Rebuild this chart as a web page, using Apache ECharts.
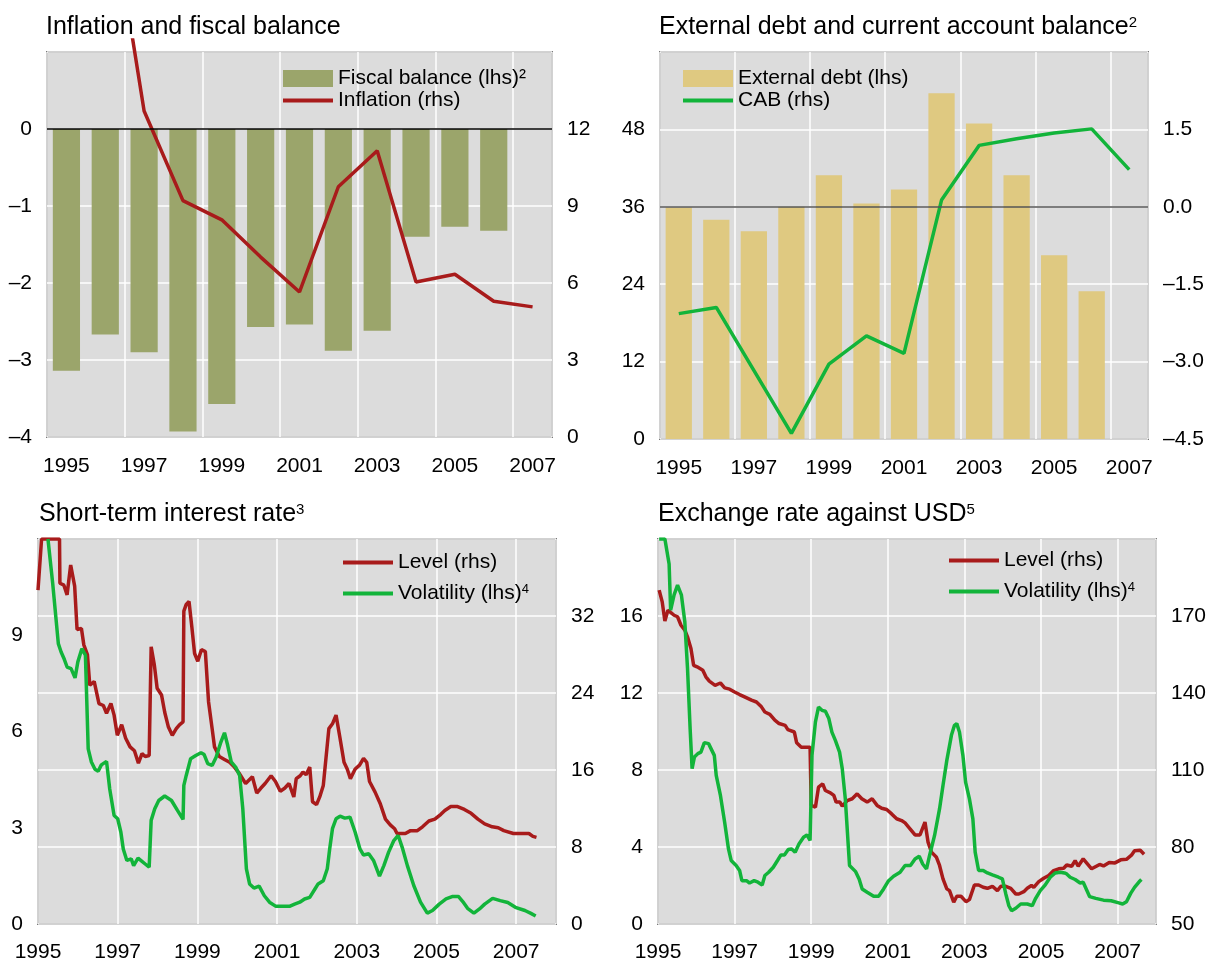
<!DOCTYPE html>
<html lang="en">
<head>
<meta charset="UTF-8">
<title>Macro indicators</title>
<script src="https://cdn.jsdelivr.net/npm/echarts@6/dist/echarts.min.js"></script>
</head>
<body style="margin:0;background:#fff">
<div id="main" style="width:1209px;height:963px;"></div>
<script type="text/javascript">
// ---- data: top panels (annual) ----
var years = ['1995','1996','1997','1998','1999','2000','2001','2002','2003','2004','2005','2006','2007'];
var fiscalBalance = [-3.14, -2.67, -2.90, -3.93, -3.57, -2.57, -2.54, -2.88, -2.62, -1.40, -1.27, -1.32, null];
var inflation = [30, 22.2, 12.7, 9.21, 8.46, 7.01, 5.65, 9.75, 11.15, 6.04, 6.34, 5.29, 5.07];
var externalDebt = [35.9, 34.0, 32.2, 36.0, 40.9, 36.5, 38.7, 53.6, 48.9, 40.9, 28.5, 22.9, null];
var cab = [-2.07, -1.95, -3.17, -4.39, -3.05, -2.50, -2.84, 0.13, 1.19, 1.32, 1.43, 1.51, 0.72];

// ---- data: bottom panels (monthly, [year, value]) ----
var rateLevel = [[1995.0,34.7],[1995.09,40],[1995.54,40],[1995.55,35.4],[1995.65,35.2],[1995.73,34.2],[1995.82,37.3],[1995.92,35.1],[1995.98,30.6],[1996.09,30.7],[1996.15,29.0],[1996.24,28.0],[1996.30,24.8],[1996.41,25.2],[1996.53,22.9],[1996.64,22.7],[1996.72,21.9],[1996.83,22.9],[1996.91,21.7],[1996.99,19.6],[1997.10,20.7],[1997.20,19.3],[1997.31,18.4],[1997.42,18.0],[1997.52,16.7],[1997.61,17.7],[1997.69,17.4],[1997.79,17.5],[1997.84,28.8],[1997.92,26.9],[1997.99,24.5],[1998.10,23.8],[1998.18,22.0],[1998.27,20.5],[1998.37,19.6],[1998.47,20.3],[1998.55,20.7],[1998.64,21.0],[1998.66,32.5],[1998.72,33.2],[1998.79,33.5],[1998.86,30.9],[1998.93,28.1],[1999.01,27.3],[1999.10,28.5],[1999.20,28.3],[1999.28,23.1],[1999.37,20.3],[1999.43,18.4],[1999.55,17.4],[1999.68,17.1],[1999.81,16.8],[1999.93,16.3],[2000.06,15.6],[2000.21,14.6],[2000.38,15.3],[2000.49,13.6],[2000.59,14.1],[2000.70,14.6],[2000.85,15.4],[2000.96,14.8],[2001.08,13.8],[2001.19,14.1],[2001.30,14.6],[2001.42,13.2],[2001.48,15.1],[2001.58,15.4],[2001.65,15.8],[2001.73,15.5],[2001.82,16.3],[2001.89,12.7],[2001.99,12.4],[2002.07,13.2],[2002.16,14.4],[2002.30,20.3],[2002.39,20.8],[2002.48,21.7],[2002.58,19.3],[2002.68,16.8],[2002.76,16.1],[2002.84,15.1],[2002.96,16.1],[2003.07,16.5],[2003.17,17.2],[2003.25,16.8],[2003.32,14.8],[2003.46,13.7],[2003.59,12.5],[2003.72,10.9],[2003.84,10.3],[2003.95,9.9],[2004.01,9.4],[2004.22,9.4],[2004.35,9.7],[2004.52,9.7],[2004.65,10.1],[2004.81,10.7],[2004.96,10.9],[2005.11,11.4],[2005.21,11.8],[2005.36,12.2],[2005.53,12.2],[2005.70,11.9],[2005.87,11.5],[2006.04,10.9],[2006.21,10.4],[2006.40,10.1],[2006.55,10.0],[2006.69,9.7],[2006.93,9.4],[2007.32,9.4],[2007.42,9.1],[2007.51,9.0]];

var rateVol = [[1995.25,12],[1995.37,10.6],[1995.51,8.74],[1995.58,8.48],[1995.66,8.25],[1995.73,8.01],[1995.83,7.96],[1995.93,7.67],[1996.00,8.17],[1996.10,8.58],[1996.19,8.38],[1996.26,5.46],[1996.34,5.05],[1996.43,4.82],[1996.51,4.76],[1996.59,4.96],[1996.72,5.07],[1996.80,4.21],[1996.91,3.38],[1997.00,3.28],[1997.08,2.86],[1997.14,2.34],[1997.23,1.98],[1997.34,2.03],[1997.40,1.82],[1997.51,2.05],[1997.61,1.95],[1997.69,1.87],[1997.79,1.77],[1997.84,3.23],[1997.93,3.59],[1998.03,3.85],[1998.18,3.99],[1998.35,3.85],[1998.50,3.54],[1998.64,3.26],[1998.66,4.32],[1998.72,4.63],[1998.83,5.15],[1998.96,5.25],[1999.09,5.34],[1999.17,5.28],[1999.26,5.00],[1999.37,4.94],[1999.47,5.20],[1999.59,5.67],[1999.68,5.96],[1999.76,5.57],[1999.85,5.05],[1999.96,4.89],[2000.06,4.63],[2000.14,3.59],[2000.23,1.72],[2000.31,1.25],[2000.42,1.12],[2000.55,1.18],[2000.68,0.88],[2000.81,0.68],[2000.97,0.55],[2001.31,0.55],[2001.44,0.62],[2001.57,0.68],[2001.69,0.78],[2001.82,0.83],[2001.95,1.09],[2002.03,1.25],[2002.16,1.35],[2002.26,1.72],[2002.32,2.34],[2002.39,2.97],[2002.48,3.28],[2002.58,3.36],[2002.70,3.30],[2002.83,3.33],[2002.96,2.86],[2003.08,2.34],[2003.17,2.15],[2003.30,2.19],[2003.42,1.98],[2003.57,1.49],[2003.68,1.82],[2003.80,2.24],[2003.93,2.60],[2004.04,2.76],[2004.14,2.39],[2004.27,1.82],[2004.43,1.20],[2004.60,0.68],[2004.77,0.34],[2004.90,0.42],[2005.07,0.62],[2005.24,0.78],[2005.41,0.86],[2005.55,0.86],[2005.66,0.70],[2005.78,0.49],[2005.94,0.34],[2006.08,0.47],[2006.21,0.62],[2006.41,0.80],[2006.60,0.73],[2006.79,0.67],[2006.98,0.52],[2007.22,0.42],[2007.37,0.33],[2007.49,0.25]];

var fxLevel = [[1995.03,180.1],[1995.11,175.5],[1995.18,168.0],[1995.26,172.3],[1995.33,171.4],[1995.42,170.3],[1995.51,169.7],[1995.60,166.4],[1995.70,164.5],[1995.77,161.9],[1995.86,157.3],[1995.93,150.8],[1996.02,150.2],[1996.17,148.9],[1996.25,146.3],[1996.34,144.6],[1996.49,143.0],[1996.63,143.9],[1996.74,142.0],[1996.87,141.5],[1997.00,140.4],[1997.13,139.4],[1997.26,138.5],[1997.44,137.2],[1997.57,136.5],[1997.70,134.6],[1997.79,132.6],[1997.92,131.7],[1998.05,129.4],[1998.16,128.1],[1998.32,127.4],[1998.39,125.7],[1998.56,124.8],[1998.62,120.6],[1998.74,118.9],[1998.97,118.9],[1999.00,96.2],[1999.11,95.5],[1999.19,103.3],[1999.30,104.6],[1999.37,102.0],[1999.50,101.1],[1999.59,100.1],[1999.65,97.5],[1999.75,97.5],[1999.81,95.9],[1999.94,98.1],[2000.07,98.8],[2000.20,100.7],[2000.32,98.8],[2000.46,97.5],[2000.59,98.8],[2000.72,96.2],[2000.84,95.1],[2000.97,94.6],[2001.10,92.9],[2001.23,91.0],[2001.36,90.3],[2001.45,89.4],[2001.58,87.1],[2001.71,84.7],[2001.84,84.7],[2001.97,89.7],[2002.05,81.9],[2002.14,78.0],[2002.27,76.0],[2002.35,72.8],[2002.44,67.6],[2002.54,63.7],[2002.61,63.0],[2002.72,58.5],[2002.80,60.8],[2002.91,60.8],[2003.04,58.7],[2003.13,59.5],[2003.26,65.2],[2003.37,65.2],[2003.49,64.3],[2003.60,63.9],[2003.73,64.7],[2003.86,63.0],[2003.95,64.7],[2004.08,64.7],[2004.21,63.9],[2004.34,61.7],[2004.42,61.7],[2004.55,62.6],[2004.64,63.9],[2004.75,65.0],[2004.81,64.3],[2004.94,66.5],[2005.07,67.8],[2005.20,68.9],[2005.33,70.8],[2005.46,71.5],[2005.59,71.7],[2005.67,73.0],[2005.80,72.5],[2005.89,74.7],[2005.97,72.5],[2006.10,75.4],[2006.32,71.5],[2006.53,73.2],[2006.63,72.6],[2006.78,74.0],[2006.93,73.8],[2007.08,75.0],[2007.23,75.2],[2007.36,76.8],[2007.44,78.5],[2007.59,78.7],[2007.69,77.2]];

var fxVol = [[1995.03,20],[1995.18,20],[1995.29,18.7],[1995.33,16.3],[1995.42,17.1],[1995.51,17.6],[1995.61,17.1],[1995.70,15.7],[1995.77,13.3],[1995.84,10.1],[1995.89,8.07],[1995.95,8.67],[1996.04,8.85],[1996.12,8.93],[1996.21,9.42],[1996.32,9.37],[1996.47,8.76],[1996.52,7.72],[1996.63,6.68],[1996.74,5.29],[1996.84,3.90],[1996.91,3.30],[1997.04,3.04],[1997.13,2.78],[1997.19,2.25],[1997.31,2.25],[1997.39,2.13],[1997.51,2.25],[1997.61,2.17],[1997.72,2.03],[1997.79,2.52],[1997.89,2.69],[1998.01,2.95],[1998.12,3.30],[1998.21,3.59],[1998.30,3.59],[1998.40,3.87],[1998.49,3.90],[1998.58,3.73],[1998.68,4.16],[1998.80,4.51],[1998.89,4.63],[1998.97,4.34],[1999.02,8.76],[1999.11,10.5],[1999.19,11.27],[1999.28,11.10],[1999.37,11.05],[1999.46,10.67],[1999.54,9.97],[1999.63,9.54],[1999.74,8.93],[1999.81,8.07],[1999.89,6.50],[2000.00,3.04],[2000.16,2.72],[2000.25,2.34],[2000.33,1.82],[2000.46,1.65],[2000.63,1.44],[2000.76,1.44],[2000.89,1.82],[2001.02,2.25],[2001.15,2.48],[2001.32,2.69],[2001.45,3.04],[2001.59,3.04],[2001.71,3.38],[2001.82,3.52],[2001.91,3.12],[2002.01,2.86],[2002.09,3.56],[2002.22,4.60],[2002.35,5.98],[2002.44,7.20],[2002.54,8.50],[2002.66,9.80],[2002.74,10.32],[2002.80,10.41],[2002.87,9.97],[2002.96,8.76],[2003.03,7.37],[2003.13,6.50],[2003.22,5.46],[2003.28,3.73],[2003.37,2.78],[2003.49,2.78],[2003.60,2.65],[2003.73,2.55],[2003.89,2.43],[2003.99,2.34],[2004.08,1.56],[2004.16,0.95],[2004.23,0.69],[2004.34,0.82],[2004.47,1.04],[2004.64,1.04],[2004.77,0.95],[2004.85,1.30],[2004.98,1.73],[2005.11,2.03],[2005.24,2.43],[2005.37,2.65],[2005.50,2.69],[2005.61,2.65],[2005.67,2.60],[2005.76,2.43],[2005.89,2.31],[2006.02,2.13],[2006.10,2.17],[2006.27,1.42],[2006.43,1.33],[2006.63,1.24],[2006.83,1.21],[2007.03,1.10],[2007.13,1.04],[2007.23,1.16],[2007.34,1.59],[2007.44,1.90],[2007.56,2.19],[2007.62,2.31]];

var RED = '#a81b1b', GREEN = '#12b43a', OLIVE = '#9ba56b', TAN = '#dfc981', BG = '#dcdcdc';
var FONT = "'Liberation Sans', Arial, sans-serif";
var YEAR0 = 1995;   // bottom x axes run in years since 1995
var FX_BASE = 50;   // fx level axis runs from its base
var LW = 3.5;

// plot boxes [left, top, right, bottom] in px
var P1 = [47, 52, 552, 437];
var P2 = [660, 52, 1148, 439];
var P3 = [38, 539, 556, 924];
var P4 = [658, 539, 1158, 924];
var INF_TOP = 40;   // inflation line may run above its plot up to here

function box(p, show) {
  return { left: p[0], top: p[1], width: p[2] - p[0], height: p[3] - p[1],
    show: show, backgroundColor: BG, borderColor: '#111', borderWidth: 1.5 };
}
function dash(v, d) {
  return (v < 0 ? '\u2013' : '') + Math.abs(v).toFixed(d);
}
function shift(arr, dx, dy) {
  return arr.map(function (p) { return [p[0] - dx, p[1] - dy]; });
}

var lbl = { color: '#000', fontSize: 21, fontFamily: FONT, margin: 15 };
var white = { show: true, lineStyle: { color: '#fff', width: 1.5 } };
var noLine = { show: false };

function catX(grid, show) {
  return { type: 'category', gridIndex: grid, data: years, show: show,
    axisLine: noLine, axisTick: noLine,
    axisLabel: Object.assign({}, lbl, { interval: 1, margin: 19 }),
    splitLine: { show: true, interval: 1, lineStyle: { color: '#fff', width: 1.5 } } };
}
function valX(grid) {
  return { type: 'value', gridIndex: grid, min: 0, max: 13, interval: 2,
    axisLine: noLine, axisTick: noLine,
    axisLabel: Object.assign({}, lbl, { margin: 18, showMaxLabel: false,
      formatter: function (v) { return String(v + YEAR0); } }),
    splitLine: white };
}
function valY(grid, pos, min, max, step, split, fmt) {
  return { type: 'value', gridIndex: grid, position: pos, min: min, max: max, interval: step,
    axisLine: noLine, axisTick: noLine,
    axisLabel: Object.assign({}, lbl, { showMaxLabel: false, formatter: fmt }),
    splitLine: split ? white : noLine };
}

var legendBase = { orient: 'vertical', itemWidth: 50, itemHeight: 17, itemGap: 1, padding: 0,
  textStyle: { color: '#000', fontSize: 21, fontFamily: FONT, lineHeight: 21,
    rich: { sup: { fontSize: 13, fontFamily: FONT, verticalAlign: 'top', lineHeight: 13, color: '#000' } } },
  itemStyle: { borderWidth: 0 }, selectedMode: false,
  formatter: function (n) { return n.indexOf('Volatility') === 0 ? n.trim() + '{sup|4}' : n.trim(); } };
var LINE_ICON = 'path://M0,0H50V4H0Z';

function legend(left, top, gap, items) {
  return Object.assign({}, legendBase, { left: left, top: top, itemGap: gap, data: items });
}

var titleStyle = { color: '#000', fontSize: 25, fontWeight: 'normal', fontFamily: FONT,
  rich: { sup: { fontSize: 15, fontFamily: FONT, verticalAlign: 'top', lineHeight: 15, color: '#000' } } };

var chart = echarts.init(document.getElementById('main'));

chart.setOption({
  animation: false,
  textStyle: { fontFamily: FONT },
  title: [
    { text: 'Inflation and fiscal balance', left: 46, top: 15, padding: 0, textStyle: titleStyle },
    { text: 'External debt and current account balance{sup|2}', left: 659, top: 15, padding: 0, textStyle: titleStyle },
    { text: 'Short-term interest rate{sup|3}', left: 39, top: 502, padding: 0, textStyle: titleStyle },
    { text: 'Exchange rate against USD{sup|5}', left: 658, top: 502, padding: 0, textStyle: titleStyle }
  ],
  legend: [
    legend(283, 68, 1, [{ name: 'Fiscal balance (lhs)\u00b2', icon: 'rect' }, { name: 'Inflation (rhs)', icon: LINE_ICON }]),
    legend(683, 68, 1, [{ name: 'External debt (lhs)', icon: 'rect' }, { name: 'CAB (rhs)', icon: LINE_ICON }]),
    legend(343, 552, 10, [{ name: 'Level (rhs)', icon: LINE_ICON }, { name: 'Volatility (lhs)', icon: LINE_ICON }]),
    legend(949, 550, 10, [{ name: 'Level (rhs) ', icon: LINE_ICON }, { name: 'Volatility (lhs) ', icon: LINE_ICON }])
  ],
  grid: [
    box(P1, true),
    box([P1[0], INF_TOP, P1[2], P1[3]], false),
    box(P2, true),
    box(P3, true),
    box(P4, true)
  ],
  xAxis: [
    catX(0, true),
    catX(1, false),
    catX(2, true),
    valX(3),
    valX(4)
  ],
  yAxis: [
    valY(0, 'left', -4, 1, 1, true, function (v) { return dash(v, 0); }),
    valY(0, 'right', 0, 15, 3, false, function (v) { return String(v); }),
    { type: 'value', gridIndex: 1, show: false, min: 0, max: 15 * (P1[3] - INF_TOP) / (P1[3] - P1[1]), splitLine: noLine },
    valY(2, 'left', 0, 60, 12, true, function (v) { return String(v); }),
    valY(2, 'right', -4.5, 3, 1.5, false, function (v) { return dash(v, 1); }),
    valY(3, 'left', 0, 12, 3, false, function (v) { return String(v); }),
    valY(3, 'right', 0, 40, 8, true, function (v) { return String(v); }),
    valY(4, 'left', 0, 20, 4, true, function (v) { return String(v); }),
    valY(4, 'right', 0, 150, 30, false, function (v) { return String(v + FX_BASE); })
  ],
  series: [
    { name: 'Fiscal balance (lhs)\u00b2', type: 'bar', xAxisIndex: 0, yAxisIndex: 0, data: fiscalBalance,
      barWidth: '70%', itemStyle: { color: OLIVE },
      markLine: { silent: true, symbol: 'none', label: { show: false },
        lineStyle: { color: '#000', width: 1.5, type: 'solid' }, data: [{ yAxis: 0 }] } },
    { name: 'Inflation (rhs)', type: 'line', xAxisIndex: 1, yAxisIndex: 2, data: inflation,
      symbol: 'none', color: RED, lineStyle: { width: LW, color: RED } },

    { name: 'External debt (lhs)', type: 'bar', xAxisIndex: 2, yAxisIndex: 3, data: externalDebt,
      barWidth: '70%', itemStyle: { color: TAN } },
    { name: 'CAB (rhs)', type: 'line', xAxisIndex: 2, yAxisIndex: 4, data: cab,
      symbol: 'none', color: GREEN, lineStyle: { width: LW, color: GREEN },
      markLine: { silent: true, symbol: 'none', label: { show: false },
        lineStyle: { color: '#555', width: 1.5, type: 'solid' }, data: [{ yAxis: 0 }] } },

    { name: 'Level (rhs)', type: 'line', xAxisIndex: 3, yAxisIndex: 6, data: shift(rateLevel, YEAR0, 0),
      symbol: 'none', color: RED, lineStyle: { width: LW, color: RED } },
    { name: 'Volatility (lhs)', type: 'line', xAxisIndex: 3, yAxisIndex: 5, data: shift(rateVol, YEAR0, 0),
      symbol: 'none', color: GREEN, lineStyle: { width: LW, color: GREEN } },

    { name: 'Level (rhs) ', type: 'line', xAxisIndex: 4, yAxisIndex: 8, data: shift(fxLevel, YEAR0, FX_BASE),
      symbol: 'none', color: RED, lineStyle: { width: LW, color: RED } },
    { name: 'Volatility (lhs) ', type: 'line', xAxisIndex: 4, yAxisIndex: 7, data: shift(fxVol, YEAR0, 0),
      symbol: 'none', color: GREEN, lineStyle: { width: LW, color: GREEN } }
  ]
});
</script>
</body>
</html>
